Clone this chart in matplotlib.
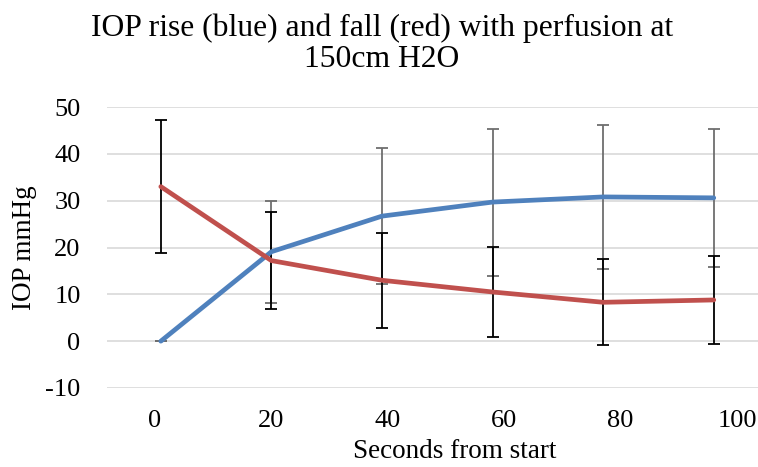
import matplotlib
matplotlib.use("Agg")
import matplotlib.pyplot as plt

# values
seconds = [1, 20, 39, 58, 77, 96]
rise = [0.0, 19.1, 26.7, 29.7, 30.8, 30.6]        # blue
rise_err = [0.0, 10.9, 14.6, 15.7, 15.4, 14.7]
fall = [33.0, 17.2, 13.0, 10.5, 8.3, 8.8]         # red
fall_err = [14.2, 10.4, 10.1, 9.7, 9.2, 9.3]

x_ticks = [0, 20, 40, 60, 80, 100]
y_ticks = [-10, 0, 10, 20, 30, 40, 50]

plt.rcParams['font.family'] = ['Liberation Serif', 'DejaVu Serif']
plt.rcParams['axes.unicode_minus'] = False

fig = plt.figure(figsize=(7.58, 4.67), dpi=100)
ax = fig.add_axes([107/758, 1-388/467, 1-107/758, 281/467])

ax.errorbar(seconds, rise, yerr=rise_err, fmt='none', ecolor='#6e6e6e',
            elinewidth=1.3, capsize=4, capthick=1.3, zorder=3)
ax.errorbar(seconds, fall, yerr=fall_err, fmt='none', ecolor='black',
            elinewidth=1.3, capsize=4, capthick=1.3, zorder=3)
ax.plot(seconds, rise, color='#4F81BD', lw=3.4, solid_capstyle='round', zorder=4)
ax.plot(seconds, fall, color='#C0504D', lw=3.4, solid_capstyle='round', zorder=4)

ax.set_xlim(-8.25, 103.6)
ax.set_ylim(-10, 50)
ax.set_xticks(x_ticks)
ax.set_yticks(y_ticks)
ax.grid(axis='y', color='#d9d9d9', lw=1.2)
ax.set_axisbelow(True)
for s in ax.spines.values():
    s.set_visible(False)
ax.tick_params(length=0, labelsize=19)
ax.tick_params(axis='x', pad=16)
ax.tick_params(axis='y', pad=19)

ax.set_ylabel('IOP mmHg', fontsize=19.5, labelpad=6)
fig.text(455/758, 1-452/467, 'Seconds from start', fontsize=19.5,
         ha='center', va='center')
fig.text(382/758, 1-44/467, 'IOP rise (blue) and fall (red) with perfusion at\n150cm H2O',
         fontsize=22.8, ha='center', va='center', linespacing=1.08)

fig.savefig('out.png', dpi=100)
